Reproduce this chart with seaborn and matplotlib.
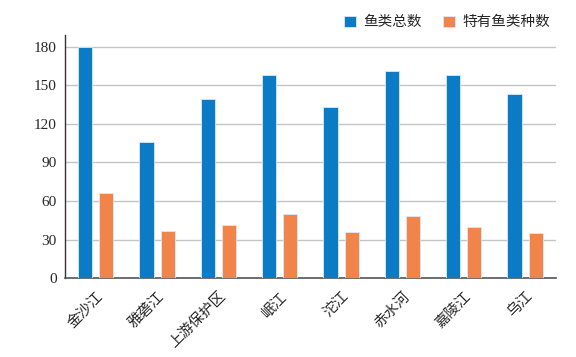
import pandas as pd
import matplotlib.pyplot as plt
import seaborn as sns

# 各江段鱼类数据
rivers = ['金沙江', '雅砻江', '上游保护区', '岷江', '沱江', '赤水河', '嘉陵江', '乌江']
total_fish = [180, 106, 139, 158, 133, 161, 158, 143]
endemic_fish = [66, 37, 41, 50, 36, 48, 40, 35]
series_names = ['鱼类总数', '特有鱼类种数']
yticks = [0, 30, 60, 90, 120, 150, 180]

df = pd.DataFrame({'river': rivers * 2,
                   'count': total_fish + endemic_fish,
                   'kind': [series_names[0]] * len(rivers) + [series_names[1]] * len(rivers)})

sns.set_style('white')
plt.rcParams['font.family'] = ['Noto Sans CJK SC', 'DejaVu Sans']

fig = plt.figure(figsize=(5.76, 3.57), dpi=100)
ax = fig.add_axes([0.113, 0.221, 0.852, 0.681])

sns.barplot(data=df, x='river', y='count', hue='kind', ax=ax,
            palette=['#0a7bc4', '#f0844a'], saturation=1, width=0.69, gap=0.33,
            edgecolor='#dbe9f5', linewidth=0.6, zorder=3)

ax.set_xlim(-0.5, 7.5)
ax.set_ylim(0, 189)
ax.set_yticks(yticks)
ax.set_yticklabels([str(v) for v in yticks], family='Liberation Serif', fontsize=11)
ax.yaxis.grid(True, color='#c4c4c4', linewidth=1, zorder=0)
ax.set_xlabel('')
ax.set_ylabel('')
plt.setp(ax.get_xticklabels(), rotation=45, ha='right', rotation_mode='anchor', fontsize=10.5)
ax.tick_params(axis='both', length=0, pad=6)
ax.tick_params(axis='x', pad=8)

for s in ['top', 'right']:
    ax.spines[s].set_visible(False)
ax.spines['left'].set_color('#333333')
ax.spines['bottom'].set_color('#555555')
ax.spines['left'].set_linewidth(1)
ax.spines['bottom'].set_linewidth(1.2)

ax.legend(loc='upper right', bbox_to_anchor=(1.015, 1.135), ncol=2, frameon=False,
          fontsize=10.5, handlelength=0.8, handleheight=0.8, columnspacing=1.5,
          handletextpad=0.5)

fig.savefig('out.png', dpi=100)
